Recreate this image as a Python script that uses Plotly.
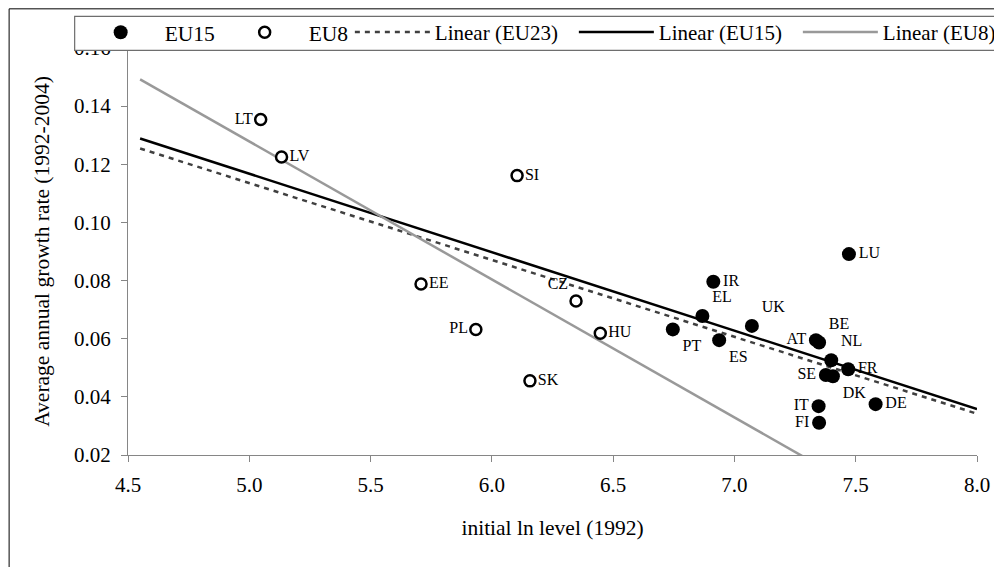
import numpy as np
import plotly.graph_objects as go

# ---------------- data ----------------
eu15_names = ["PT", "IR", "EL", "UK", "ES", "AT", "BE", "NL", "FR", "SE", "DK", "IT", "FI", "DE", "LU"]
eu15_x = [6.746, 6.913, 6.868, 7.072, 6.937, 7.336, 7.349, 7.399, 7.469, 7.377, 7.406, 7.347, 7.349, 7.582, 7.472]
eu15_y = [0.0632, 0.0796, 0.0678, 0.0644, 0.0595, 0.0595, 0.0587, 0.0526, 0.0495, 0.0475, 0.0471, 0.0368, 0.0311, 0.0375, 0.0891]
eu15_pos = ["bottom right", "middle right", "top right", "top right", "bottom right", "middle left", "top right",
            "top right", "middle right", "middle left", "bottom right", "middle left", "middle left", "middle right",
            "middle right"]

eu8_names = ["LT", "LV", "SI", "EE", "CZ", "PL", "HU", "SK"]
eu8_x = [5.047, 5.133, 6.104, 5.708, 6.347, 5.934, 6.447, 6.157]
eu8_y = [0.1354, 0.1225, 0.1161, 0.0788, 0.0730, 0.0632, 0.0619, 0.0455]
eu8_pos = ["middle left", "middle right", "middle right", "middle right", "top left", "middle left",
           "middle right", "middle right"]

trend_x_range = [4.55, 8.0]
x_ticks = [4.5, 5.0, 5.5, 6.0, 6.5, 7.0, 7.5, 8.0]
y_ticks = [0.02, 0.04, 0.06, 0.08, 0.10, 0.12, 0.14, 0.16]

FONT = "Liberation Serif, Times New Roman, serif"

# ---------------- linear trend lines ----------------
def trend(xs, ys):
    b, a = np.polyfit(np.array(xs), np.array(ys), 1)
    tx = np.array(trend_x_range)
    return tx, a + b * tx

t23x, t23y = trend(eu15_x + eu8_x, eu15_y + eu8_y)
t15x, t15y = trend(eu15_x, eu15_y)
t8x, t8y = trend(eu8_x, eu8_y)

fig = go.Figure()

fig.add_trace(go.Scatter(x=t23x, y=t23y, mode="lines", name="Linear (EU23)",
                         line=dict(color="#404040", width=2.5, dash="5px,5px"),
                         legend="legend2", legendrank=3))
fig.add_trace(go.Scatter(x=t15x, y=t15y, mode="lines", name="Linear (EU15)",
                         line=dict(color="black", width=2.5),
                         legend="legend2", legendrank=4))
fig.add_trace(go.Scatter(x=t8x, y=t8y, mode="lines", name="Linear (EU8)",
                         line=dict(color="#999999", width=2.5),
                         legend="legend2", legendrank=5))

fig.add_trace(go.Scatter(x=eu15_x, y=eu15_y, mode="markers+text", name="EU15",
                         text=eu15_names, textposition=eu15_pos,
                         textfont=dict(family=FONT, size=16, color="black"),
                         marker=dict(symbol="circle", size=14, color="black"),
                         legend="legend", legendrank=1))
fig.add_trace(go.Scatter(x=eu8_x, y=eu8_y, mode="markers+text", name="EU8",
                         text=eu8_names, textposition=eu8_pos,
                         textfont=dict(family=FONT, size=16, color="black"),
                         marker=dict(symbol="circle", size=11, color="white",
                                     line=dict(color="black", width=2.5)),
                         legend="legend", legendrank=2))

# The page adds an 8px body margin, so the figure sits at (8, 8) in the window.
OFF = 8
W, H = 1002 - OFF, 567 - OFF
# target plot area in window pixels
PL, PR, PT_, PB = 128.3, 976.7, 47.7, 455.0
def px(v): return (v - PL) / (PR - PL)
def py(v): return (PB - v) / (PB - PT_)

fig.update_layout(
    width=W, height=H,
    margin=dict(l=PL - OFF, r=1002 - PR, t=PT_ - OFF, b=567 - PB, autoexpand=False),
    paper_bgcolor="white", plot_bgcolor="white",
    font=dict(family=FONT, color="black"),
    showlegend=True,
    legend=dict(orientation="h", x=px(77), y=py(32), xanchor="left", yanchor="middle",
                bgcolor="rgba(0,0,0,0)", borderwidth=0, itemwidth=78, entrywidth=51,
                font=dict(family=FONT, size=21.5, color="black"), traceorder="normal"),
    legend2=dict(orientation="h", x=px(350), y=py(32), xanchor="left", yanchor="middle",
                 bgcolor="rgba(0,0,0,0)", borderwidth=0, itemwidth=75, entrywidth=134,
                 font=dict(family=FONT, size=21, color="black"), traceorder="normal"),
    xaxis=dict(range=[4.5, 8.0], tickvals=x_ticks, ticktext=[f"{v:.1f}" for v in x_ticks],
               showgrid=False, zeroline=False, showline=True, linecolor="#868686", linewidth=1,
               ticks="outside", ticklen=6, tickcolor="#868686", ticklabelstandoff=5,
               tickfont=dict(family=FONT, size=21, color="black"),
               title=dict(text="initial ln level (1992)", font=dict(family=FONT, size=21.5), standoff=23)),
    yaxis=dict(range=[0.02, 0.16], tickvals=y_ticks, ticktext=[f"{v:.2f}" for v in y_ticks],
               showgrid=False, zeroline=False, showline=True, linecolor="#868686", linewidth=1,
               ticks="outside", ticklen=6, tickcolor="#868686", ticklabelstandoff=6,
               tickfont=dict(family=FONT, size=21, color="black"),
               title=dict(text="Average annual growth rate (1992-2004)", font=dict(family=FONT, size=21.5),
                          standoff=18)),
    shapes=[
        dict(type="rect", xref="paper", yref="paper", x0=px(9.5), x1=px(1010), y0=py(620), y1=py(8.5),
             line=dict(color="black", width=1), fillcolor="rgba(0,0,0,0)", layer="below"),
        dict(type="rect", xref="paper", yref="paper", x0=px(75), x1=px(1010), y0=py(50), y1=py(16),
             line=dict(color="#6e6e6e", width=1.2), fillcolor="white", layer="above"),
    ],
)

fig.write_html("out.html")
